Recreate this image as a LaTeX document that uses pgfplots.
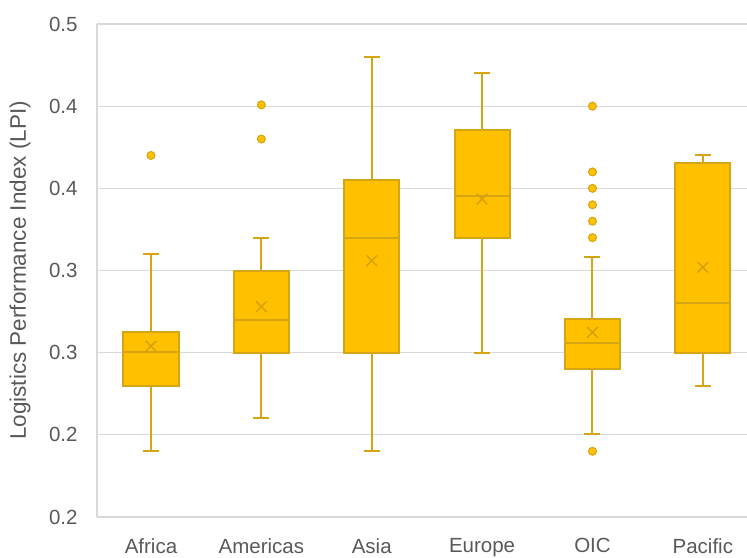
\documentclass[border=0pt]{standalone}
\usepackage{pgfplots}
\pgfplotsset{compat=1.18}
\usepgfplotslibrary{statistics}
\usepackage{fontspec}
\setmainfont{Liberation Sans}
\definecolor{gold}{RGB}{255,192,0}
\definecolor{golde}{RGB}{214,165,20}
\definecolor{avgc}{RGB}{212,160,10}
\definecolor{gridc}{RGB}{217,217,217}
\definecolor{txt}{RGB}{89,89,89}
\pgfplotsset{
  outl/.style={draw=golde, line width=2pt, mark=*, mark size=4pt,
    mark options={fill=gold, draw=golde, line width=1pt}},
}
\begin{document}
\begin{tikzpicture}
\begin{axis}[
  name=ax, scale only axis, width=650pt, height=493pt,
  xmin=-0.489, xmax=5.4, ymin=0.2, ymax=0.5,
  axis lines*=left, axis line style={gridc, line width=1.3pt},
  ytick={0.2,0.25,0.3,0.35,0.4,0.45,0.5},
  yticklabels={0.2,0.2,0.3,0.3,0.4,0.4,0.5},
  xtick={0,1,2,3,4,5},
  xticklabels={Africa,Americas,Asia,Europe,OIC,Pacific},
  ymajorgrids, major grid style={gridc, line width=1.3pt},
  major tick length=0pt,
  tick label style={font=\fontsize{20.5}{24}\selectfont, text=txt},
  yticklabel style={inner sep=0pt, xshift=-19.3pt},
  xticklabel style={inner sep=0pt, yshift=-21pt},
  ylabel={Logistics Performance Index (LPI)},
  ylabel style={at={(axis description cs:-0.1185,0.5)}, anchor=center, font=\fontsize{22.5}{26}\selectfont, text=txt},
  boxplot/draw direction=y,
  boxplot/box extend=0.5,
  boxplot/whisker extend=0.145,
  boxplot/every box/.style={draw=golde, fill=gold, line width=2pt},
  boxplot/every whisker/.style={draw=golde, line width=2pt},
  boxplot/every median/.style={draw=golde, line width=2pt},
]
\addplot[outl, boxplot prepared={draw position=0, lower whisker=0.240, lower quartile=0.280, median=0.3004, upper quartile=0.3126, upper whisker=0.360}]
  coordinates {(0,0.420)};
\addplot[outl, boxplot prepared={draw position=1, lower whisker=0.260, lower quartile=0.300, median=0.320, upper quartile=0.350, upper whisker=0.370}]
  coordinates {(1,0.430) (1,0.4508)};
\addplot[outl, boxplot prepared={draw position=2, lower whisker=0.240, lower quartile=0.300, median=0.370, upper quartile=0.405, upper whisker=0.480}]
  coordinates {};
\addplot[outl, boxplot prepared={draw position=3, lower whisker=0.300, lower quartile=0.370, median=0.3956, upper quartile=0.4355, upper whisker=0.470}]
  coordinates {};
\addplot[outl, boxplot prepared={draw position=4, lower whisker=0.2503, lower quartile=0.290, median=0.3059, upper quartile=0.3207, upper whisker=0.358}]
  coordinates {(4,0.450) (4,0.410) (4,0.400) (4,0.390) (4,0.380) (4,0.370) (4,0.240)};
\addplot[outl, boxplot prepared={draw position=5, lower whisker=0.280, lower quartile=0.300, median=0.330, upper quartile=0.4153, upper whisker=0.420}]
  coordinates {};
% means
\addplot[only marks, mark=x, mark size=7.5pt, mark options={draw=avgc, line width=1.4pt}]
  coordinates {(0,0.304) (1,0.328) (2,0.356) (3,0.3935) (4,0.3124) (5,0.352)};
\end{axis}
\pgfresetboundingbox
\path[use as bounding box] ([xshift=-97pt,yshift=-40pt]ax.south west) rectangle ([yshift=24pt]ax.north east);
\end{tikzpicture}
\end{document}
